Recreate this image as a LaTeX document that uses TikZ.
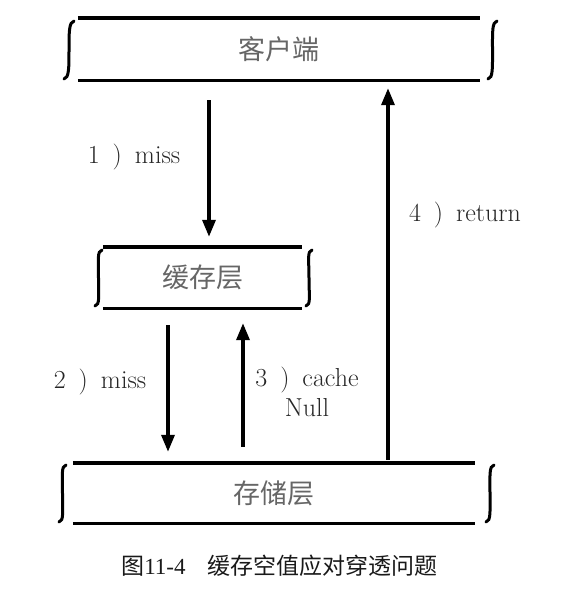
\documentclass[tikz,border=0pt]{standalone}
\usepackage{fontspec}
\newfontfamily\cjk{Noto Sans CJK SC}
\newfontfamily\tnr{Liberation Serif}
\usetikzlibrary{arrows.meta,calc}
\begin{document}
\begin{tikzpicture}[x=1pt,y=-1pt,
  bar/.style={line width=3.4pt},
  brk/.style={line width=3pt, line cap=round},
  arr/.style={line width=3.4pt, -{Triangle[length=17pt,width=13pt]}},
  layer/.style={inner sep=0pt, font=\cjk\fontsize{27}{30}\selectfont, text=black!60},
  lbl/.style={inner sep=0pt, font=\fontsize{26}{30}\selectfont, text=black!85, align=center}]
\useasboundingbox (0,0) rectangle (582,592);
\newcommand\brkt[2]{\draw[brk] (#1) .. controls +(-5,1) and +(0,-18) .. ($(#1)!0.5!(#2)$) .. controls +(0,18) and +(5,-1) .. (#2);}
% layer boxes
\node[layer, minimum width=402pt, minimum height=62pt] (client) at (279,49) {客户端};
\node[layer, minimum width=199pt, minimum height=61pt] (cache) at (202.5,277.5) {缓存层};
\node[layer, minimum width=402pt, minimum height=60pt] (store) at (274,493) {存储层};
\foreach \n in {client,cache,store}{
  \draw[bar] (\n.north west) -- (\n.north east);
  \draw[bar] (\n.south west) -- (\n.south east);
}
\brkt{74,21}{64,79}
\brkt{497,21}{488,79}
\brkt{102,250}{95,306}
\brkt{312,250}{306,306}
\brkt{66,465}{59,522}
\brkt{494,465}{486,522}
% arrows
\draw[arr] ([xshift=-70pt,yshift=-20pt]client.south) -- ([xshift=6.5pt,yshift=10pt]cache.north);
\draw[arr] ([xshift=-34.5pt,yshift=-17pt]cache.south) -- ([xshift=-106pt,yshift=11pt]store.north);
\draw[arr] ([xshift=-31pt,yshift=16pt]store.north) -- ([xshift=40.5pt,yshift=-15pt]cache.south);
\draw[arr] ([xshift=114pt,yshift=3pt]store.north) -- ([xshift=109pt,yshift=-8pt]client.south);
% labels
\node[lbl] (l1) at (134,157) {1\enspace)\enspace miss};
\node[lbl] (l2) at (100,382) {2\enspace)\enspace miss};
\node[lbl] (l3) at (307,392) {3\enspace)\enspace cache\\Null};
\node[lbl] (l4) at (465,215) {4\enspace)\enspace return};
% caption
\node[inner sep=0pt, text=black!90, font=\fontsize{23}{26}\selectfont] (cap) at (279.5,566) {{\cjk 图}{\tnr 11-4}\hspace{22pt}{\cjk 缓存空值应对穿透问题}};
\end{tikzpicture}
\end{document}
